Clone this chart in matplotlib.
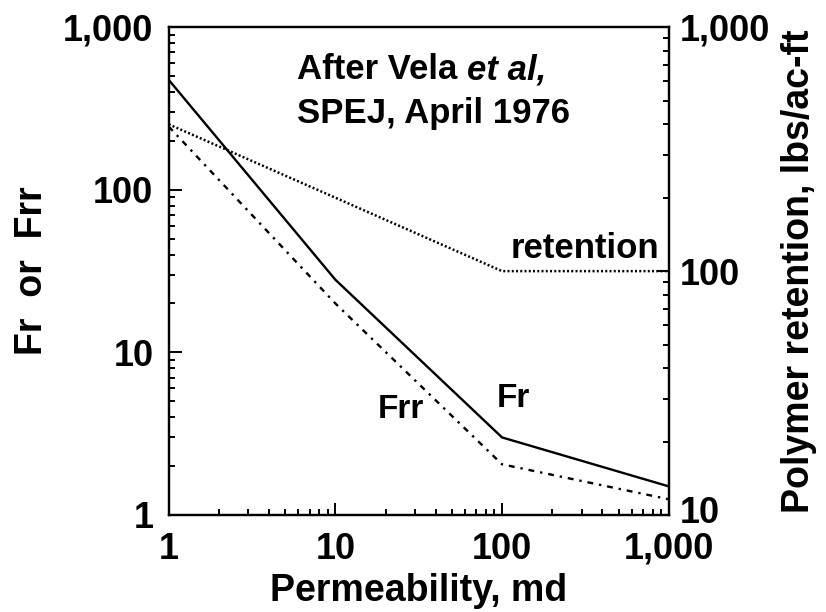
import matplotlib
matplotlib.use('Agg')
import matplotlib.pyplot as plt
from matplotlib.ticker import FixedLocator, FuncFormatter, LogLocator, NullFormatter
from matplotlib.transforms import ScaledTranslation

plt.rcParams['font.family'] = ['Liberation Sans', 'DejaVu Sans']
plt.rcParams['font.weight'] = 'bold'

# data
permeability = [1, 10, 100, 1000]
fr = [475, 28, 3.0, 1.5]
frr = [245, 20, 2.05, 1.25]
ret_perm = [1, 100, 1000]
retention = [400, 100, 100]

left_ticks = [1, 10, 100, 1000]
right_ticks = [10, 100, 1000]
x_ticks = [1, 10, 100, 1000]

def comma_fmt(v, pos):
    return f"{int(round(v)):,}"

fig = plt.figure(figsize=(8.26, 6.12), dpi=100)
ax = fig.add_axes([0.2042, 0.1585, 0.6054, 0.797])
ax2 = ax.twinx()

ax.plot(permeability, fr, color='black', lw=1.7)
ax.plot(permeability, frr, color='black', lw=1.7, linestyle=(0, (2.5, 2.5, 1, 2.5)))
ax2.plot(ret_perm, retention, color='black', lw=1.8, linestyle=(0, (0.8, 0.9)))

ax.set_xscale('log')
ax.set_yscale('log')
ax2.set_yscale('log')
ax.set_xlim(1, 1000)
ax.set_ylim(1, 1000)
ax2.set_ylim(10, 1000)

fmt = FuncFormatter(comma_fmt)
for a, ticks in ((ax, left_ticks), (ax2, right_ticks)):
    a.yaxis.set_major_locator(FixedLocator(ticks))
    a.yaxis.set_major_formatter(fmt)
    a.yaxis.set_minor_locator(LogLocator(base=10, subs=range(2, 10)))
    a.yaxis.set_minor_formatter(NullFormatter())
ax.xaxis.set_major_locator(FixedLocator(x_ticks))
ax.xaxis.set_major_formatter(fmt)
ax.xaxis.set_minor_locator(LogLocator(base=10, subs=range(2, 10)))
ax.xaxis.set_minor_formatter(NullFormatter())

ax.tick_params(which='both', direction='in', top=False, right=False, width=1.4)
ax.tick_params(which='major', length=9, labelsize=26, pad=11)
ax.tick_params(axis='x', which='major', pad=12)
ax.tick_params(which='minor', length=4.5)
ax2.tick_params(which='both', direction='in', width=1.4)
ax2.tick_params(which='major', length=9, labelsize=26, pad=8)
ax2.tick_params(which='minor', length=4.5)

for a in (ax, ax2):
    for s in a.spines.values():
        s.set_linewidth(1.6)
    for lab in a.get_xticklabels() + a.get_yticklabels():
        lab.set_fontweight('bold')

ax.set_xlabel('Permeability, md', fontsize=27, fontweight='bold')
ax.xaxis.set_label_coords(0.5, -0.119)
ax.set_ylabel('Fr  or  Frr', fontsize=27, fontweight='bold')
ax.yaxis.set_label_coords(-0.237, 0.5)
ax2.set_ylabel('Polymer retention, lbs/ac-ft', fontsize=27, fontweight='bold')
ax2.yaxis.set_label_coords(1.225, 0.5)

# nudge the lowest right-hand label up so it clears the "1,000" below it
low = ax2.yaxis.get_major_ticks()[0].label2
low.set_transform(low.get_transform() + ScaledTranslation(0, 4 / 72, fig.dpi_scale_trans))

# annotations
t1 = ax.text(5.9, 480, 'After Vela', fontsize=25, fontweight='bold', va='baseline')
ax.annotate('et al,', xy=(1, 0), xycoords=t1, xytext=(7, 0), textcoords='offset points',
            fontsize=25, fontweight='bold', style='italic', va='bottom')
ax.text(5.9, 258, 'SPEJ, April 1976', fontsize=25, fontweight='bold', va='baseline')
ax.text(880, 38, 'retention', fontsize=25, fontweight='bold', ha='right', va='baseline')
ax.text(93, 4.6, 'Fr', fontsize=24, fontweight='bold', va='baseline')
ax.text(18, 3.95, 'Frr', fontsize=24, fontweight='bold', va='baseline')

fig.savefig('out.png', dpi=100)
